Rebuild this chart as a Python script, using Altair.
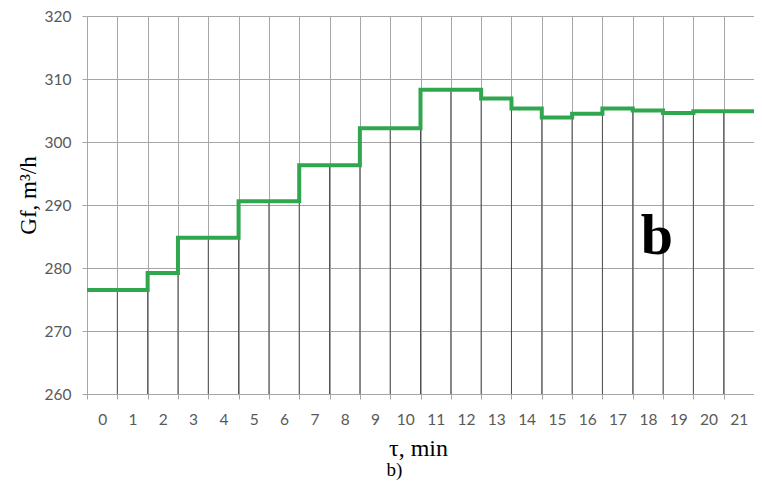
import altair as alt
import pandas as pd

# Data
minutes = list(range(22))
flow = [276.5, 276.5, 279.2, 284.8, 284.8, 290.6, 290.6, 296.3, 296.3, 302.2, 302.2,
        308.3, 308.3, 306.9, 305.3, 303.9, 304.5, 305.3, 305.0, 304.6, 304.9, 304.9]
y_ticks = [260, 270, 280, 290, 300, 310, 320]
x_tick_values = [i / 2 for i in range(2 * len(minutes) + 1)]

# step line: each minute's value holds across its band [t, t+1]
line_df = pd.DataFrame({"t": minutes + [len(minutes)], "g": flow + [flow[-1]]})
# drop lines at band boundaries, from the axis up to the curve
drop_df = pd.DataFrame({
    "t": minutes[1:],
    "g": [min(a, b) for a, b in zip(flow[:-1], flow[1:])],
})
note_df = pd.DataFrame({"t": [18.8], "g": [282.2], "label": ["b"]})

GRID = "#a6a6a6"
LABEL = "#595959"

x_axis = alt.Axis(
    values=x_tick_values,
    grid=True,
    gridColor=GRID,
    gridOpacity={"condition": {"test": "datum.value % 1 == 0", "value": 1}, "value": 0},
    tickOpacity={"condition": {"test": "datum.value % 1 == 0", "value": 1}, "value": 0},
    ticks=True,
    tickSize=5,
    tickColor=GRID,
    domainColor=GRID,
    labelExpr="datum.value % 1 == 0.5 ? toString(floor(datum.value)) : ''",
    labelOverlap=False,
    labelFlush=False,
    labelFont="Lato",
    labelFontSize=15.5,
    labelColor=LABEL,
    labelPadding=13,
    title="τ, min",
    titleFont="Liberation Serif",
    titleFontSize=24,
    titleFontWeight="normal",
    titleColor="black",
    titleX=331,
    titleY=61,
    titleAlign="center",
    titleBaseline="alphabetic",
)

y_axis = alt.Axis(
    values=y_ticks,
    grid=True,
    gridColor=GRID,
    domain=False,
    ticks=True,
    tickSize=5,
    tickColor=GRID,
    labelFont="Lato",
    labelFontSize=15.5,
    labelColor=LABEL,
    labelPadding=11,
    title="Gf, m³/h",
    titleFont="Liberation Serif",
    titleFontSize=23,
    titleFontWeight="normal",
    titleColor="black",
    titleAngle=270,
    titleX=-52,
    titleY=179,
    titleAlign="center",
    titleBaseline="alphabetic",
)

x_enc = alt.X("t:Q", scale=alt.Scale(domain=[0, 22], nice=False, zero=False), axis=x_axis)
y_enc = alt.Y("g:Q", scale=alt.Scale(domain=[260, 320], nice=False, zero=False), axis=y_axis)

drops = alt.Chart(drop_df).mark_rule(color="#4d4d4d", strokeWidth=1).encode(
    x=x_enc, y=y_enc, y2=alt.datum(260)
)

line = alt.Chart(line_df).mark_line(
    interpolate="step-after", color="#30a64f", strokeWidth=4, strokeJoin="miter"
).encode(x=x_enc, y=y_enc)

note = alt.Chart(note_df).mark_text(
    font="Liberation Serif", fontSize=58, fontWeight="bold", color="black",
    align="center", baseline="alphabetic"
).encode(x=x_enc, y=y_enc, text="label:N")

chart = alt.layer(drops, line, note).properties(
    width=667,
    height=378,
    padding={"left": 79, "top": 8, "right": 0, "bottom": 86},
    autosize=alt.AutoSizeParams(type="none"),
    title=alt.TitleParams(
        "b)", orient="bottom", font="Liberation Serif", fontSize=19,
        fontWeight="normal", color="black", anchor="middle", dx=-26, offset=1
    ),
).configure_view(strokeWidth=0)

chart.save("out.html", embed_options={"renderer": "svg", "actions": False})
